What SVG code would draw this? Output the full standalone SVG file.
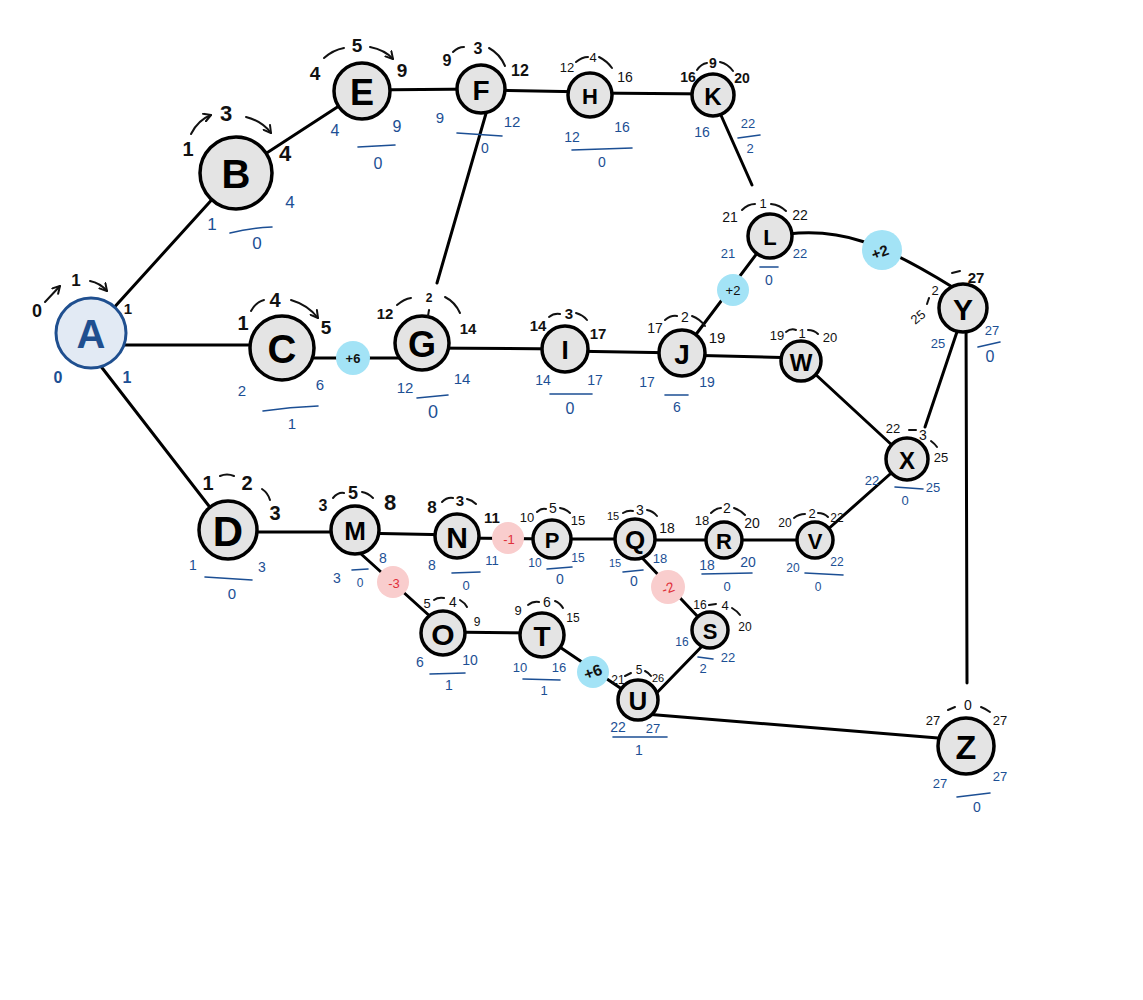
<svg xmlns="http://www.w3.org/2000/svg" width="1143" height="1000" viewBox="0 0 1143 1000">
  <style>
    .edge { stroke: #000; stroke-width: 3; fill: none; stroke-linecap: round; }
    .nd { fill: #e4e4e4; stroke: #000; stroke-width: 3.5; }
    .lt { font-family: "Liberation Sans", "DejaVu Sans", sans-serif; font-weight: 700; fill: #000; text-anchor: middle; dominant-baseline: central; }
    .k { font-family: "Liberation Sans", "DejaVu Sans", sans-serif; fill: #111; text-anchor: middle; dominant-baseline: central; }
    .kb { font-family: "Liberation Sans", "DejaVu Sans", sans-serif; font-weight: 700; fill: #111; text-anchor: middle; dominant-baseline: central; }
    .b { font-family: "Liberation Sans", "DejaVu Sans", sans-serif; fill: #1c4f94; text-anchor: middle; dominant-baseline: central; }
    .arc { fill: none; stroke: #111; stroke-width: 2; stroke-linecap: round; }
    .ul { fill: none; stroke: #1c4f94; stroke-width: 1.6; stroke-linecap: round; }
    .pos { fill: #a3e3f6; }
    .neg { fill: #f9cdcd; }
    .rt { font-family: "Liberation Sans", "DejaVu Sans", sans-serif; fill: #e0303a; text-anchor: middle; dominant-baseline: central; }
  </style>
  <defs>
    <marker id="ah" viewBox="0 0 10 10" refX="8" refY="5" markerWidth="5" markerHeight="5" orient="auto">
      <path d="M1,1 L8,5 L1,9" fill="none" stroke="#111" stroke-width="2" stroke-linecap="round" stroke-linejoin="round"/>
    </marker>
  </defs>

  <rect width="1143" height="1000" fill="#fff"/>

  <!-- connectors -->
  <g id="connectors">
    <path class="edge" d="M91,333 L236,173"/>
    <path class="edge" d="M236,173 L362,91"/>
    <path class="edge" d="M362,90 L481,89"/>
    <path class="edge" d="M481,90 L590,92"/>
    <path class="edge" d="M590,93 L713,94"/>
    <path class="edge" d="M487,110 L437,283"/>
    <path class="edge" d="M720,113 L752,185"/>
    <path class="edge" d="M788,234 C840,228 880,242 954,288"/>
    <path class="edge" d="M91,345 L282,345"/>
    <path class="edge" d="M282,358 L422,358"/>
    <path class="edge" d="M422,348 L565,349"/>
    <path class="edge" d="M565,351 L682,353"/>
    <path class="edge" d="M682,355 L801,358"/>
    <path class="edge" d="M682,353 L770,236"/>
    <path class="edge" d="M801,361 L907,459"/>
    <path class="edge" d="M965,308 L925,427"/>
    <path class="edge" d="M966,308 L967,683"/>
    <path class="edge" d="M96,360 L212,510"/>
    <path class="edge" d="M228,532 L355,532"/>
    <path class="edge" d="M355,533 L457,535"/>
    <path class="edge" d="M457,538 L552,539"/>
    <path class="edge" d="M552,539 L635,539"/>
    <path class="edge" d="M635,540 L724,540"/>
    <path class="edge" d="M724,540 L815,540"/>
    <path class="edge" d="M826,531 L907,459"/>
    <path class="edge" d="M350,544 L443,628"/>
    <path class="edge" d="M443,632 L542,633"/>
    <path class="edge" d="M542,635 L638,700"/>
    <path class="edge" d="M630,545 L700,619"/>
    <path class="edge" d="M710,638 L645,705"/>
    <path class="edge" d="M645,714 L938,738"/>
  </g>

  <!-- float / shift markers on connectors -->
  <g id="m-c-g"><circle class="pos" cx="353" cy="358" r="17"/><text class="kb" x="353" y="358" font-size="13">+6</text></g>
  <g id="m-j-l"><circle class="pos" cx="733" cy="290" r="16"/><text class="k" x="733" y="290" font-size="13">+2</text></g>
  <g id="m-l-y"><circle class="pos" cx="882" cy="250" r="20"/><text class="kb" x="880" y="252" font-size="15" transform="rotate(-20 880 252)">+2</text></g>
  <g id="m-n-p"><circle class="neg" cx="508" cy="538" r="16"/><text class="rt" x="509" y="539" font-size="13">-1</text></g>
  <g id="m-m-o"><circle class="neg" cx="393" cy="582" r="16"/><text class="rt" x="394" y="583" font-size="13">-3</text></g>
  <g id="m-q-s"><circle class="neg" cx="668" cy="587" r="17"/><text class="rt" x="668" y="588" font-size="14" transform="rotate(-20 668 588)">-2</text></g>
  <g id="m-t-u"><circle class="pos" cx="593" cy="672" r="16"/><text class="kb" x="593" y="672" font-size="16" transform="rotate(-20 593 672)">+6</text></g>

  <!-- nodes -->
  <g id="A">
    <circle cx="91" cy="333" r="35" fill="#e2eaf4" stroke="#1f4f8f" stroke-width="3"/>
    <text class="lt" x="91" y="334" font-size="40" fill="#1f4f8f" style="fill:#1f4f8f">A</text>
    <text class="kb" x="37" y="311" font-size="18">0</text>
    <path class="arc" d="M45,302 L60,286" marker-end="url(#ah)"/>
    <text class="kb" x="76" y="280" font-size="17">1</text>
    <path class="arc" d="M90,281 Q100,283 107,291" marker-end="url(#ah)"/>
    <text class="kb" x="128" y="308" font-size="15">1</text>
    <text class="b" x="58" y="377" font-size="16" font-weight="700">0</text>
    <text class="b" x="127" y="377" font-size="16" font-weight="700">1</text>
  </g>

  <g id="B">
    <circle class="nd" cx="236" cy="173" r="36"/>
    <text class="lt" x="236" y="174" font-size="40">B</text>
    <text class="kb" x="188" y="149" font-size="20">1</text>
    <path class="arc" d="M191,134 Q198,120 211,115" marker-end="url(#ah)"/>
    <text class="kb" x="226" y="113" font-size="22">3</text>
    <path class="arc" d="M246,117 Q262,121 271,133" marker-end="url(#ah)"/>
    <text class="kb" x="285" y="153" font-size="22">4</text>
    <text class="b" x="212" y="224" font-size="17">1</text>
    <text class="b" x="290" y="202" font-size="17">4</text>
    <path class="ul" d="M230,233 Q250,228 272,227"/>
    <text class="b" x="257" y="243" font-size="17">0</text>
  </g>

  <g id="E">
    <circle class="nd" cx="362" cy="91" r="28"/>
    <text class="lt" x="362" y="92" font-size="36">E</text>
    <text class="kb" x="315" y="73" font-size="19">4</text>
    <path class="arc" d="M324,58 Q333,50 344,48"/>
    <text class="kb" x="357" y="45" font-size="19">5</text>
    <path class="arc" d="M370,47 Q385,50 393,59" marker-end="url(#ah)"/>
    <text class="kb" x="402" y="70" font-size="19">9</text>
    <text class="b" x="335" y="130" font-size="16">4</text>
    <text class="b" x="397" y="126" font-size="16">9</text>
    <path class="ul" d="M358,147 L395,145"/>
    <text class="b" x="378" y="163" font-size="16">0</text>
  </g>

  <g id="F">
    <circle class="nd" cx="481" cy="89" r="24"/>
    <text class="lt" x="481" y="90" font-size="28">F</text>
    <text class="kb" x="447" y="60" font-size="16">9</text>
    <path class="arc" d="M453,52 Q458,47 464,47"/>
    <text class="kb" x="478" y="48" font-size="16">3</text>
    <path class="arc" d="M489,48 Q500,54 505,66"/>
    <text class="kb" x="520" y="70" font-size="16">12</text>
    <text class="b" x="440" y="117" font-size="15">9</text>
    <text class="b" x="512" y="121" font-size="15">12</text>
    <path class="ul" d="M457,133 L502,136"/>
    <text class="b" x="485" y="148" font-size="14">0</text>
  </g>

  <g id="H">
    <circle class="nd" cx="590" cy="95" r="22"/>
    <text class="lt" x="590" y="96" font-size="22">H</text>
    <text class="k" x="567" y="67" font-size="13">12</text>
    <path class="arc" d="M576,62 Q582,57 588,57"/>
    <text class="k" x="593" y="57" font-size="13">4</text>
    <path class="arc" d="M599,57 Q607,61 612,68"/>
    <text class="k" x="625" y="77" font-size="14">16</text>
    <text class="b" x="572" y="137" font-size="14">12</text>
    <text class="b" x="622" y="127" font-size="14">16</text>
    <path class="ul" d="M572,150 L632,148"/>
    <text class="b" x="602" y="162" font-size="14">0</text>
  </g>

  <g id="K">
    <circle class="nd" cx="713" cy="95" r="21"/>
    <text class="lt" x="713" y="96" font-size="24">K</text>
    <text class="kb" x="688" y="77" font-size="14">16</text>
    <path class="arc" d="M697,70 Q701,64 707,63"/>
    <text class="kb" x="713" y="63" font-size="14">9</text>
    <path class="arc" d="M720,62 Q728,64 733,71"/>
    <text class="kb" x="742" y="78" font-size="14">20</text>
    <text class="b" x="702" y="132" font-size="14">16</text>
    <text class="b" x="748" y="123" font-size="13">22</text>
    <path class="ul" d="M738,138 L760,135"/>
    <text class="b" x="750" y="148" font-size="13">2</text>
  </g>

  <g id="L">
    <circle class="nd" cx="770" cy="236" r="22"/>
    <text class="lt" x="770" y="237" font-size="22">L</text>
    <text class="k" x="730" y="217" font-size="14">21</text>
    <path class="arc" d="M742,210 Q748,204 755,204"/>
    <text class="k" x="763" y="203" font-size="13">1</text>
    <path class="arc" d="M771,204 Q780,205 786,211"/>
    <text class="k" x="800" y="215" font-size="14">22</text>
    <text class="b" x="728" y="253" font-size="13">21</text>
    <text class="b" x="800" y="253" font-size="13">22</text>
    <path class="ul" d="M760,267 L778,267"/>
    <text class="b" x="769" y="280" font-size="14">0</text>
  </g>

  <g id="C">
    <circle class="nd" cx="282" cy="348" r="32"/>
    <text class="lt" x="282" y="349" font-size="40">C</text>
    <text class="kb" x="243" y="323" font-size="20">1</text>
    <path class="arc" d="M251,311 Q256,302 264,300"/>
    <text class="kb" x="275" y="300" font-size="20">4</text>
    <path class="arc" d="M291,300 Q308,305 318,318" marker-end="url(#ah)"/>
    <text class="kb" x="326" y="327" font-size="19">5</text>
    <text class="b" x="242" y="390" font-size="15">2</text>
    <text class="b" x="320" y="384" font-size="15">6</text>
    <path class="ul" d="M263,411 Q290,407 318,406"/>
    <text class="b" x="292" y="423" font-size="15">1</text>
  </g>

  <g id="G">
    <circle class="nd" cx="422" cy="343" r="27"/>
    <text class="lt" x="422" y="344" font-size="36">G</text>
    <text class="kb" x="385" y="313" font-size="15">12</text>
    <path class="arc" d="M397,305 Q404,299 411,298"/>
    <text class="kb" x="429" y="298" font-size="12">2</text>
    <path class="arc" d="M429,310 L428,316"/>
    <path class="arc" d="M445,297 Q455,302 460,313"/>
    <text class="kb" x="468" y="328" font-size="15">14</text>
    <text class="b" x="405" y="387" font-size="15">12</text>
    <text class="b" x="462" y="378" font-size="15">14</text>
    <path class="ul" d="M417,398 L448,395"/>
    <text class="b" x="433" y="412" font-size="18">0</text>
  </g>

  <g id="I">
    <circle class="nd" cx="565" cy="349" r="23"/>
    <text class="lt" x="565" y="350" font-size="26">I</text>
    <text class="kb" x="538" y="325" font-size="15">14</text>
    <path class="arc" d="M549,317 Q554,313 560,314"/>
    <text class="kb" x="569" y="313" font-size="15">3</text>
    <path class="arc" d="M576,313 Q583,315 587,320"/>
    <text class="kb" x="598" y="333" font-size="15">17</text>
    <text class="b" x="543" y="380" font-size="14">14</text>
    <text class="b" x="595" y="380" font-size="14">17</text>
    <path class="ul" d="M550,394 L592,394"/>
    <text class="b" x="570" y="408" font-size="16">0</text>
  </g>

  <g id="J">
    <circle class="nd" cx="682" cy="353" r="23"/>
    <text class="lt" x="682" y="354" font-size="28">J</text>
    <text class="k" x="655" y="328" font-size="14">17</text>
    <path class="arc" d="M665,320 Q671,315 677,316"/>
    <text class="k" x="685" y="317" font-size="14">2</text>
    <path class="arc" d="M692,316 Q700,319 705,326"/>
    <text class="k" x="717" y="337" font-size="15">19</text>
    <text class="b" x="647" y="382" font-size="14">17</text>
    <text class="b" x="707" y="382" font-size="14">19</text>
    <path class="ul" d="M665,395 L688,395"/>
    <text class="b" x="677" y="407" font-size="14">6</text>
  </g>

  <g id="W">
    <circle class="nd" cx="801" cy="361" r="20"/>
    <text class="lt" x="801" y="362" font-size="24">W</text>
    <text class="k" x="777" y="335" font-size="13">19</text>
    <path class="arc" d="M786,332 Q791,328 796,330"/>
    <text class="k" x="802" y="333" font-size="13">1</text>
    <path class="arc" d="M808,330 Q814,330 818,334"/>
    <text class="k" x="830" y="337" font-size="13">20</text>
  </g>

  <g id="Y">
    <circle class="nd" cx="963" cy="308" r="24"/>
    <text class="lt" x="963" y="309" font-size="30">Y</text>
    <text class="k" x="918" y="317" font-size="13" transform="rotate(-40 918 317)">25</text>
    <path class="arc" d="M927,304 L929,298"/>
    <text class="k" x="935" y="290" font-size="13">2</text>
    <path class="arc" d="M952,273 L960,271"/>
    <text class="kb" x="976" y="277" font-size="15">27</text>
    <text class="b" x="938" y="343" font-size="13">25</text>
    <text class="b" x="992" y="330" font-size="13">27</text>
    <path class="ul" d="M978,347 L1000,342"/>
    <text class="b" x="990" y="356" font-size="16">0</text>
  </g>

  <g id="X">
    <circle class="nd" cx="907" cy="459" r="21"/>
    <text class="lt" x="907" y="460" font-size="24">X</text>
    <text class="k" x="893" y="428" font-size="13">22</text>
    <path class="arc" d="M909,430 L916,430"/>
    <text class="k" x="923" y="435" font-size="14">3</text>
    <path class="arc" d="M931,441 Q935,444 937,447"/>
    <text class="k" x="941" y="457" font-size="13">25</text>
    <text class="b" x="872" y="480" font-size="13">22</text>
    <text class="b" x="933" y="487" font-size="13">25</text>
    <path class="ul" d="M895,487 L923,489"/>
    <text class="b" x="905" y="500" font-size="13">0</text>
  </g>

  <g id="D">
    <circle class="nd" cx="228" cy="530" r="29"/>
    <text class="lt" x="228" y="531" font-size="42">D</text>
    <text class="kb" x="208" y="483" font-size="20">1</text>
    <path class="arc" d="M220,476 Q227,473 234,476"/>
    <text class="kb" x="247" y="483" font-size="20">2</text>
    <path class="arc" d="M262,489 Q268,493 270,500"/>
    <text class="kb" x="275" y="513" font-size="20">3</text>
    <text class="b" x="193" y="565" font-size="14">1</text>
    <text class="b" x="262" y="567" font-size="14">3</text>
    <path class="ul" d="M205,577 L252,580"/>
    <text class="b" x="232" y="593" font-size="15">0</text>
  </g>

  <g id="M">
    <circle class="nd" cx="355" cy="530" r="24"/>
    <text class="lt" x="355" y="531" font-size="26">M</text>
    <text class="kb" x="323" y="505" font-size="16">3</text>
    <path class="arc" d="M333,498 Q338,492 344,493"/>
    <text class="kb" x="353" y="493" font-size="18">5</text>
    <path class="arc" d="M362,492 Q368,493 373,498"/>
    <text class="kb" x="390" y="502" font-size="22">8</text>
    <text class="b" x="337" y="578" font-size="14">3</text>
    <text class="b" x="383" y="558" font-size="14">8</text>
    <path class="ul" d="M352,570 L368,569"/>
    <text class="b" x="360" y="583" font-size="12">0</text>
  </g>

  <g id="N">
    <circle class="nd" cx="457" cy="536" r="22"/>
    <text class="lt" x="457" y="537" font-size="30">N</text>
    <text class="kb" x="432" y="507" font-size="17">8</text>
    <path class="arc" d="M442,502 Q447,497 453,498"/>
    <text class="kb" x="460" y="500" font-size="15">3</text>
    <path class="arc" d="M467,499 Q472,500 476,504"/>
    <text class="kb" x="492" y="517" font-size="15">11</text>
    <text class="b" x="432" y="565" font-size="14">8</text>
    <text class="b" x="492" y="560" font-size="13">11</text>
    <path class="ul" d="M452,573 L480,572"/>
    <text class="b" x="466" y="585" font-size="13">0</text>
  </g>

  <g id="P">
    <circle class="nd" cx="552" cy="539" r="19"/>
    <text class="lt" x="552" y="540" font-size="22">P</text>
    <text class="k" x="527" y="517" font-size="13">10</text>
    <path class="arc" d="M537,512 Q541,508 546,509"/>
    <text class="k" x="553" y="508" font-size="14">5</text>
    <path class="arc" d="M560,508 Q566,509 570,513"/>
    <text class="k" x="578" y="520" font-size="13">15</text>
    <text class="b" x="535" y="563" font-size="12">10</text>
    <text class="b" x="578" y="558" font-size="12">15</text>
    <path class="ul" d="M547,569 L572,567"/>
    <text class="b" x="560" y="579" font-size="14">0</text>
  </g>

  <g id="Q">
    <circle class="nd" cx="635" cy="539" r="20"/>
    <text class="lt" x="635" y="540" font-size="26">Q</text>
    <text class="k" x="613" y="516" font-size="11">15</text>
    <path class="arc" d="M623,513 Q628,510 633,511"/>
    <text class="k" x="640" y="510" font-size="14">3</text>
    <path class="arc" d="M647,510 Q653,511 657,516"/>
    <text class="k" x="667" y="528" font-size="14">18</text>
    <text class="b" x="615" y="563" font-size="11">15</text>
    <text class="b" x="660" y="558" font-size="13">18</text>
    <path class="ul" d="M623,572 L643,570"/>
    <text class="b" x="634" y="581" font-size="14">0</text>
  </g>

  <g id="R">
    <circle class="nd" cx="724" cy="540" r="18"/>
    <text class="lt" x="724" y="541" font-size="22">R</text>
    <text class="k" x="702" y="520" font-size="13">18</text>
    <path class="arc" d="M711,513 Q716,508 721,508"/>
    <text class="k" x="727" y="508" font-size="14">2</text>
    <path class="arc" d="M734,508 Q740,510 745,515"/>
    <text class="k" x="752" y="523" font-size="14">20</text>
    <text class="b" x="707" y="565" font-size="14">18</text>
    <text class="b" x="748" y="562" font-size="14">20</text>
    <path class="ul" d="M702,574 L752,573"/>
    <text class="b" x="727" y="586" font-size="13">0</text>
  </g>

  <g id="V">
    <circle class="nd" cx="815" cy="540" r="18"/>
    <text class="lt" x="815" y="541" font-size="22">V</text>
    <text class="k" x="785" y="523" font-size="12">20</text>
    <path class="arc" d="M794,518 Q799,514 805,514"/>
    <text class="k" x="812" y="513" font-size="13">2</text>
    <path class="arc" d="M818,513 Q824,513 828,517"/>
    <text class="k" x="837" y="518" font-size="12">22</text>
    <text class="b" x="793" y="568" font-size="12">20</text>
    <text class="b" x="837" y="562" font-size="12">22</text>
    <path class="ul" d="M805,573 L843,575"/>
    <text class="b" x="818" y="587" font-size="12">0</text>
  </g>

  <g id="O">
    <circle class="nd" cx="443" cy="633" r="22"/>
    <text class="lt" x="443" y="634" font-size="30">O</text>
    <text class="k" x="427" y="603" font-size="13">5</text>
    <path class="arc" d="M434,600 Q438,597 444,598"/>
    <text class="k" x="453" y="602" font-size="14">4</text>
    <path class="arc" d="M460,600 Q465,603 467,607"/>
    <text class="k" x="477" y="622" font-size="12">9</text>
    <text class="b" x="420" y="662" font-size="14">6</text>
    <text class="b" x="470" y="660" font-size="14">10</text>
    <path class="ul" d="M430,674 L465,673"/>
    <text class="b" x="449" y="685" font-size="14">1</text>
  </g>

  <g id="T">
    <circle class="nd" cx="542" cy="635" r="22"/>
    <text class="lt" x="542" y="636" font-size="28">T</text>
    <text class="k" x="518" y="610" font-size="13">9</text>
    <path class="arc" d="M528,605 Q533,601 539,602"/>
    <text class="k" x="547" y="602" font-size="14">6</text>
    <path class="arc" d="M555,601 Q560,603 563,608"/>
    <text class="k" x="573" y="618" font-size="12">15</text>
    <text class="b" x="520" y="667" font-size="13">10</text>
    <text class="b" x="559" y="667" font-size="13">16</text>
    <path class="ul" d="M523,679 L560,680"/>
    <text class="b" x="544" y="690" font-size="13">1</text>
  </g>

  <g id="S">
    <circle class="nd" cx="710" cy="630" r="18"/>
    <text class="lt" x="710" y="631" font-size="22">S</text>
    <text class="k" x="700" y="605" font-size="12">16</text>
    <path class="arc" d="M709,605 L716,604"/>
    <text class="k" x="725" y="605" font-size="13">4</text>
    <path class="arc" d="M732,608 Q737,611 740,615"/>
    <text class="k" x="745" y="627" font-size="12">20</text>
    <text class="b" x="682" y="642" font-size="12">16</text>
    <text class="b" x="728" y="657" font-size="13">22</text>
    <path class="ul" d="M698,657 L713,659"/>
    <text class="b" x="703" y="668" font-size="13">2</text>
  </g>

  <g id="U">
    <circle class="nd" cx="638" cy="700" r="20"/>
    <text class="lt" x="638" y="701" font-size="26">U</text>
    <text class="k" x="618" y="680" font-size="12">21</text>
    <path class="arc" d="M625,676 L631,673"/>
    <text class="k" x="639" y="670" font-size="12">5</text>
    <path class="arc" d="M645,671 Q649,673 651,676"/>
    <text class="k" x="658" y="678" font-size="11">26</text>
    <text class="b" x="618" y="727" font-size="14">22</text>
    <text class="b" x="653" y="728" font-size="13">27</text>
    <path class="ul" d="M613,737 L667,737"/>
    <text class="b" x="639" y="750" font-size="14">1</text>
  </g>

  <g id="Z">
    <circle class="nd" cx="966" cy="746" r="28"/>
    <text class="lt" x="966" y="747" font-size="34">Z</text>
    <text class="k" x="933" y="720" font-size="13">27</text>
    <path class="arc" d="M948,710 L955,707"/>
    <text class="k" x="968" y="705" font-size="14">0</text>
    <path class="arc" d="M981,707 Q986,709 990,712"/>
    <text class="k" x="1000" y="720" font-size="13">27</text>
    <text class="b" x="940" y="783" font-size="13">27</text>
    <text class="b" x="1000" y="776" font-size="13">27</text>
    <path class="ul" d="M957,797 L990,793"/>
    <text class="b" x="977" y="807" font-size="14">0</text>
  </g>
</svg>
